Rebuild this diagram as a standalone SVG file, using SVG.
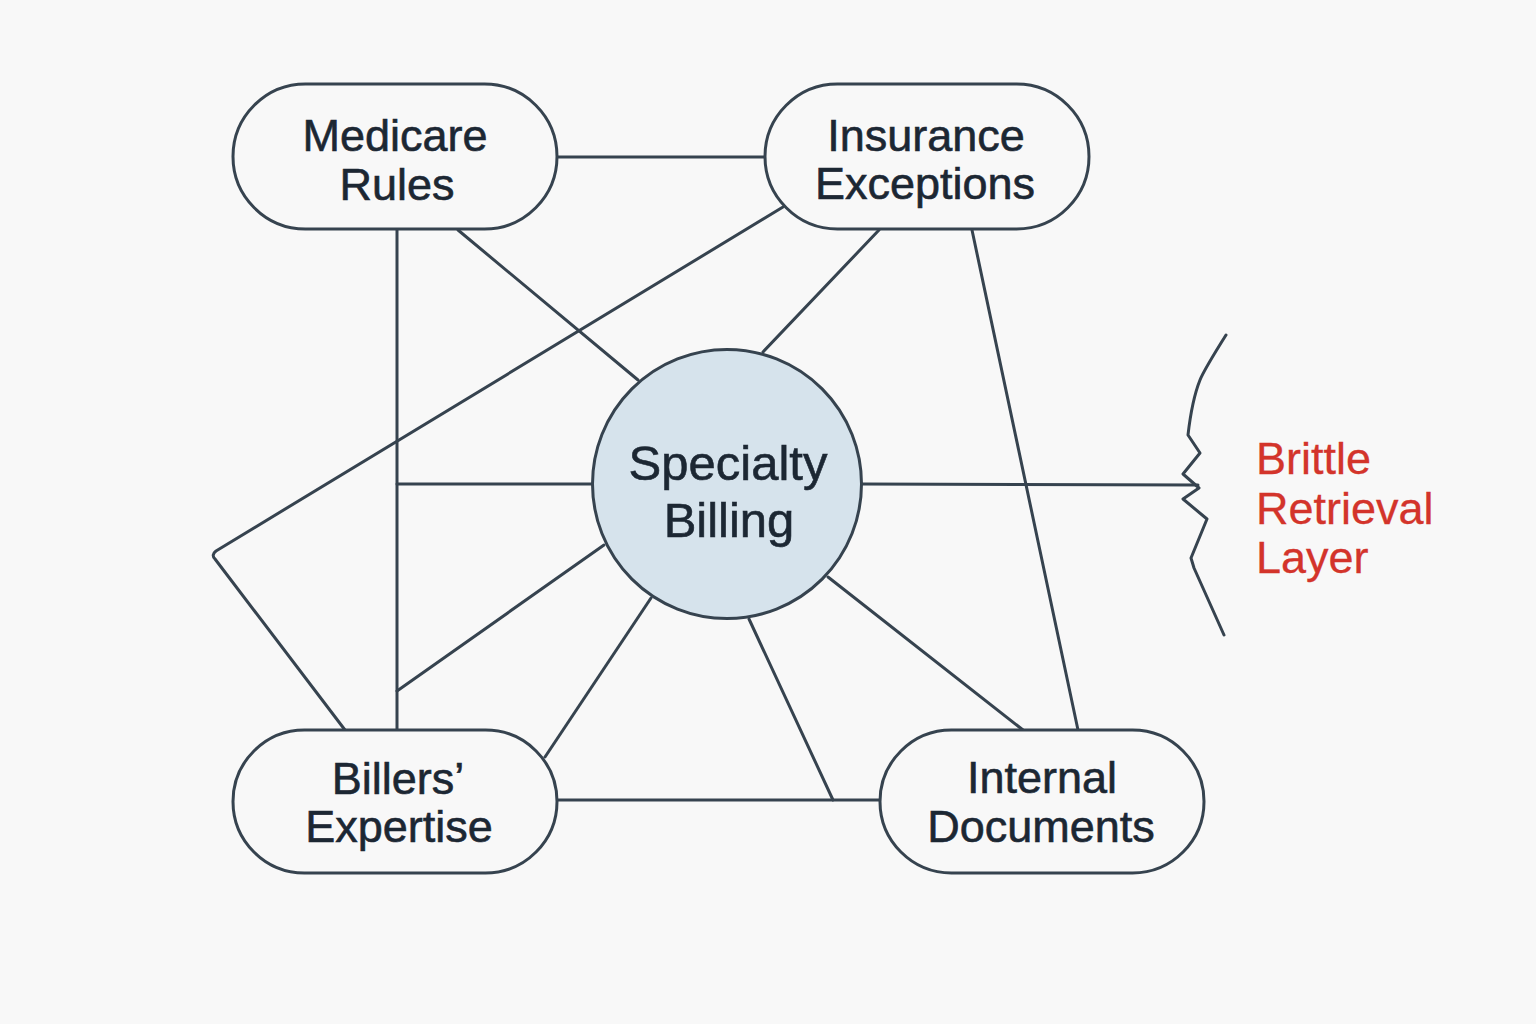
<svg xmlns="http://www.w3.org/2000/svg" width="1536" height="1024" viewBox="0 0 1536 1024">
<style>
.ln{fill:none;stroke:#36434f;stroke-width:3;stroke-linecap:round;stroke-linejoin:round}
.pill{fill:#f8f8f8;stroke:#36434f;stroke-width:3}
.t{font-family:"Liberation Sans",Arial,sans-serif;font-size:45px;fill:#1c2733;stroke:#1c2733;stroke-width:0.6;text-anchor:middle}
.red{font-family:"Liberation Sans",Arial,sans-serif;font-size:45px;fill:#d3342b;stroke:#d3342b;stroke-width:0.3}
</style>
<rect width="1536" height="1024" fill="#f8f8f8"/>
<g id="connectors">
<line class="ln" x1="557" y1="157" x2="765" y2="157"/>
<line class="ln" x1="397" y1="229" x2="397" y2="730"/>
<line class="ln" x1="458" y1="230" x2="638" y2="380"/>
<path class="ln" d="M783,207 L216,551 Q211,555 215,559 L345,730"/>
<line class="ln" x1="879" y1="230" x2="763" y2="352"/>
<line class="ln" x1="972" y1="230" x2="1078" y2="730"/>
<line class="ln" x1="593" y1="484" x2="397" y2="484"/>
<line class="ln" x1="604" y1="545" x2="397" y2="691"/>
<line class="ln" x1="651" y1="598" x2="545" y2="757"/>
<line class="ln" x1="749" y1="619" x2="833" y2="800"/>
<line class="ln" x1="828" y1="577" x2="1023" y2="730"/>
<line class="ln" x1="861" y1="484" x2="1198" y2="485"/>
<line class="ln" x1="557" y1="800" x2="880" y2="800"/>
</g>
<g id="brittle-layer">
<path class="ln" d="M1226,335 Q1204,370 1200,380 Q1192,400 1188,435 L1200,453 L1183,474 L1199,488 L1183,499 L1207,519 L1191,558 L1194,568 L1224,635"/>
<text class="red" x="1256" y="474">Brittle</text>
<text class="red" x="1256" y="524">Retrieval</text>
<text class="red" x="1256" y="573">Layer</text>
</g>
<g id="medicare-rules">
<rect class="pill" x="233" y="84" width="324" height="145" rx="72.5"/>
<text class="t" x="395" y="151">Medicare</text>
<text class="t" x="397" y="200">Rules</text>
</g>
<g id="insurance-exceptions">
<rect class="pill" x="765" y="84" width="324" height="145" rx="72.5"/>
<text class="t" x="926" y="151">Insurance</text>
<text class="t" x="925" y="199">Exceptions</text>
</g>
<g id="specialty-billing">
<circle cx="727" cy="484" r="134.5" fill="#d6e3ec" stroke="#36434f" stroke-width="3"/>
<text class="t" x="728" y="480" style="font-size:49px">Specialty</text>
<text class="t" x="729" y="537" style="font-size:49px">Billing</text>
</g>
<g id="billers-expertise">
<rect class="pill" x="233" y="730" width="324" height="143" rx="71.5"/>
<text class="t" x="398" y="794">Billers’</text>
<text class="t" x="399" y="842">Expertise</text>
</g>
<g id="internal-documents">
<rect class="pill" x="880" y="730" width="324" height="143" rx="71.5"/>
<text class="t" x="1042" y="793">Internal</text>
<text class="t" x="1041" y="842">Documents</text>
</g>
</svg>
